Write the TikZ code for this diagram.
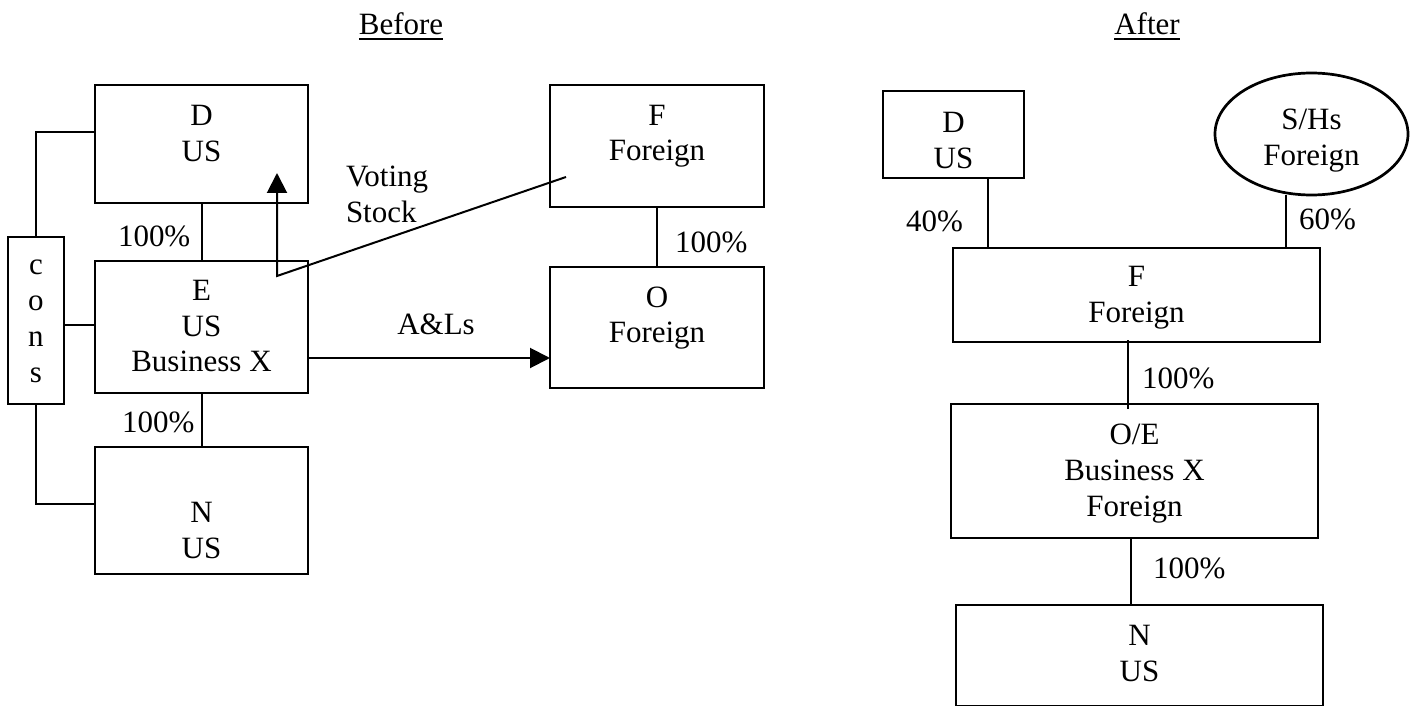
\documentclass[tikz,border=0pt]{standalone}
\usepackage{fontspec}
\setmainfont{Liberation Serif}
\usetikzlibrary{arrows.meta,shapes.geometric}
% text block inside a box: width, height, height of the first line, lines
\newcommand{\cell}[4]{\parbox[c][#2][t]{#1}{\centering\rule{0pt}{#3}#4}}

\begin{document}
\begin{tikzpicture}[x=0.5pt,y=-0.5pt,
  every node/.style={font=\fontsize{15.5}{18}\selectfont, inner sep=0pt, outer sep=0pt},
  box/.style={draw, line width=1.35pt, rectangle},
  oval/.style={draw, line width=1.35pt, ellipse},
  link/.style={line width=1pt},
  arr/.style={link, -{Triangle[length=10pt,width=10pt]}},
  pct/.style={anchor=base west},
  headline/.style={anchor=base},
]
\useasboundingbox (0,0) rectangle (1410,706);

% ---------- Before ----------
\node[headline] (tB) at (401,35) {Before};
\draw[line width=1pt] ([yshift=-2pt]tB.base west) -- ([yshift=-2pt]tB.base east);

\node[box] (bD) at (201.5,144) {\cell{106.5pt}{59pt}{20pt}{D\\US}};
\node[box] (bE) at (201.5,327) {\cell{106.5pt}{66pt}{19.5pt}{E\\US\\Business X}};
\node[box] (bN) at (201.5,510.5) {\cell{106.5pt}{63.5pt}{37.5pt}{N\\US}};
\node[box] (bF) at (657,146) {\cell{107pt}{61pt}{20pt}{F\\Foreign}};
\node[box] (bO) at (657,327.5) {\cell{107pt}{60.5pt}{20pt}{O\\Foreign}};
\node[box] (cons) at (36,320.5) {\cell{28pt}{83.5pt}{18.5pt}{c\\o\\n\\s}};

% ownership lines
\draw[link] (bD.south) -- (bE.north);
\draw[link] (bE.south) -- (bN.north);
\draw[link] (bF.south) -- (bO.north);
\node[pct] (pDE) at (118,247) {100\%};
\node[pct] (pEN) at (122,432) {100\%};
\node[pct] (pFO) at (675,252) {100\%};

% consolidated group bracket
\draw[link] (cons.north) |- ([yshift=6pt]bD.west);
\draw[link] ([yshift=-2.25pt]cons.east) -- ([yshift=-2.25pt]cons.east -| bE.west);
\draw[link] (cons.south) |- ([yshift=3.25pt]bN.west);

% voting stock moving from F to D
\coordinate (vsA) at (566,177);
\coordinate (vsB) at (277,276);
\coordinate (vsC) at (277,173);
\draw[arr] (vsA) -- (vsB) -- (vsC);
\node[anchor=base west] (vs) at (346,187) {\parbox[t]{60pt}{Voting\\Stock}};

% assets and liabilities from E to O
\draw[arr] ([yshift=-15.5pt]bE.east) -- ([yshift=-15.5pt]bE.east -| bO.west);
\node[anchor=base] (al) at (436,335) {A\&Ls};

% ---------- After ----------
\node[headline] (tA) at (1147,35) {After};
\draw[line width=1pt] ([yshift=-2pt]tA.base west) -- ([yshift=-2pt]tA.base east);

\node[box] (aD) at (953.5,134.5) {\cell{70.5pt}{43.5pt}{21pt}{D\\US}};
\node[oval, minimum width=96.5pt, minimum height=61pt] (aS) at (1311.5,134) {\cell{60pt}{42pt}{19pt}{S/Hs\\Foreign}};
\node[box] (aF) at (1136.5,295) {\cell{183.5pt}{47pt}{19.5pt}{F\\Foreign}};
\node[box] (aOE) at (1134.5,471) {\cell{183.5pt}{67pt}{20pt}{O/E\\Business X\\Foreign}};
\node[box] (aN) at (1139.5,655.5) {\cell{183.5pt}{50.5pt}{20pt}{N\\US}};

\draw[link] ([xshift=17.25pt]aD.south) -- ([xshift=17.25pt]aD.south |- aF.north);
\draw[link] ([xshift=-12.75pt]aS.south) -- ([xshift=-12.75pt]aS.south |- aF.north);
\draw[link] ([xshift=-4.25pt,yshift=1pt]aF.south) -- ([xshift=-4.25pt,yshift=-2.5pt]aF.south |- aOE.north);
\draw[link] ([xshift=-1.75pt]aOE.south) -- ([xshift=-1.75pt]aOE.south |- aN.north);

\node[pct] (p40) at (906,232) {40\%};
\node[pct] (p60) at (1299,229) {60\%};
\node[pct] (pFOE) at (1142,388) {100\%};
\node[pct] (pOEN) at (1153,578) {100\%};
\end{tikzpicture}
\end{document}
